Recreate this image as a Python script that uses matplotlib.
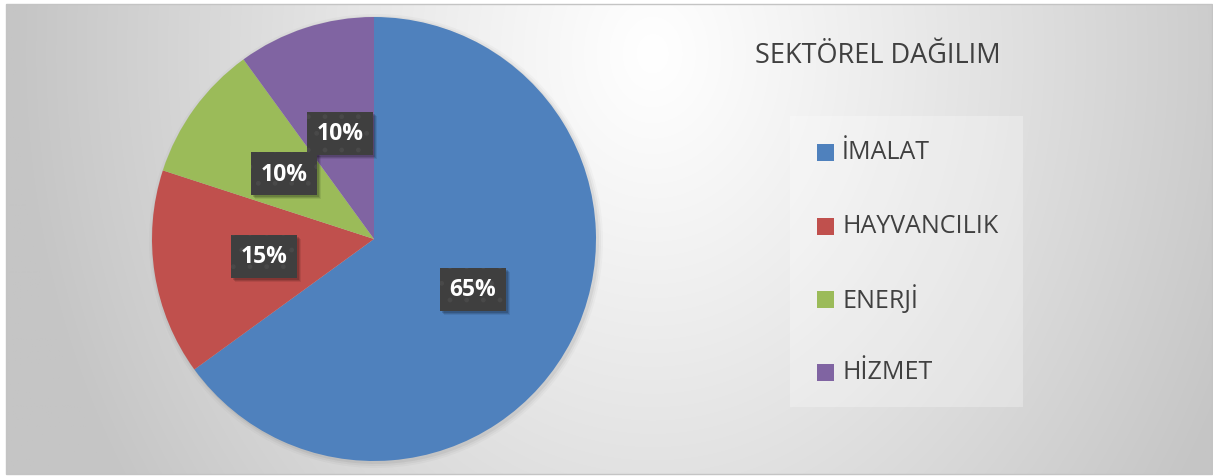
import numpy as np
import matplotlib
matplotlib.use("Agg")
import matplotlib.pyplot as plt
import matplotlib.transforms as mtransforms
from matplotlib.patches import Rectangle, Circle

# ---- data ----
categories = ["İMALAT", "HAYVANCILIK", "ENERJİ", "HİZMET"]
values = [65, 15, 10, 10]
colors = ["#4F81BD", "#C0504D", "#9BBB59", "#8064A2"]
title = "SEKTÖREL DAĞILIM"

W, H = 1213, 477
DPI = 100
fig = plt.figure(figsize=(W / DPI, H / DPI), dpi=DPI)
fig.patch.set_facecolor("white")

FONT = ["Open Sans", "DejaVu Sans"]

# ---- background gradient ----
bg = fig.add_axes([0, 0, 1, 1], zorder=0)
bg.set_xlim(0, W)
bg.set_ylim(H, 0)
bg.axis("off")
yy, xx = np.mgrid[0:H, 0:W]
d = np.sqrt((xx - 650.0) ** 2 + ((yy - 50.0) * 0.8) ** 2)
g = 255 - 58 * np.clip(d / 640.0, 0, 1) ** 1.1
img = np.dstack([g, g, g]) / 255.0
bg.imshow(img, extent=(6, W - 1, H - 2, 5), origin="upper", interpolation="bilinear", zorder=0)
bg.add_patch(Rectangle((6, 5), W - 7, H - 7, fill=False, edgecolor="#c4c4c4", lw=1.0, zorder=1))

# legend background box
bg.add_patch(Rectangle((790, 117), 233, 291, facecolor="white", alpha=0.28, edgecolor="none", zorder=2))

# pie shadow (soft)
for r, a in [(227, 0.025), (225, 0.035), (223, 0.05)]:
    bg.add_patch(Circle((376, 242), r, facecolor="black", alpha=a, edgecolor="none", zorder=2))

# ---- pie ----
cx, cy, R = 374, 240, 222
ax = fig.add_axes([(cx - R) / W, (H - cy - R) / H, 2 * R / W, 2 * R / H], zorder=2)
wedges, texts = ax.pie(values, colors=colors, startangle=90, counterclock=False,
                       radius=1.0, labels=None, wedgeprops=dict(linewidth=0))
ax.set_xlim(-1, 1)
ax.set_ylim(-1, 1)
ax.set_aspect("equal")
ax.axis("off")

plt.rcParams["hatch.linewidth"] = 1.0
total = sum(values)
start = 90.0
label_texts = []
for v in values:
    ang = np.deg2rad(start - 360.0 * v / total / 2)
    start -= 360.0 * v / total
    x, y = 0.5 * np.cos(ang), 0.5 * np.sin(ang)
    lbl = f"{round(100 * v / total)}%"
    t = ax.text(x, y, lbl, ha="center", va="center", fontsize=16.5, fontweight="bold",
                color="white", family=FONT,
                bbox=dict(boxstyle="square,pad=0.42", facecolor="#3f3f3f", edgecolor="#494949",
                          linewidth=0, hatch="."),
                zorder=4)
    label_texts.append(t)

# shadows behind label boxes (computed from rendered box extents)
fig.canvas.draw()
renderer = fig.canvas.get_renderer()
for t in label_texts:
    bb = t.get_bbox_patch().get_window_extent(renderer)
    for k, a in [(4, 0.08), (3, 0.12), (2, 0.15)]:
        p = Rectangle((bb.x0 + k, bb.y0 - k), bb.width, bb.height,
                      transform=mtransforms.IdentityTransform(), facecolor="black", alpha=a,
                      edgecolor="none", zorder=3, clip_on=False)
        ax.add_artist(p)

# ---- title ----
bg.text(755, 56, title, ha="left", va="center", fontsize=19.5, color="#404040", family=FONT, zorder=5)

# ---- legend ----
ys = [153, 227, 300, 373]
for c, lab, yv in zip(colors, categories, ys):
    bg.add_patch(Rectangle((817, yv - 8.5), 17, 17, facecolor=c, edgecolor="none", zorder=5))
    bg.text(842, yv, lab, ha="left", va="center", fontsize=18, color="#404040", family=FONT, zorder=5)

fig.savefig("out.png", dpi=DPI)
